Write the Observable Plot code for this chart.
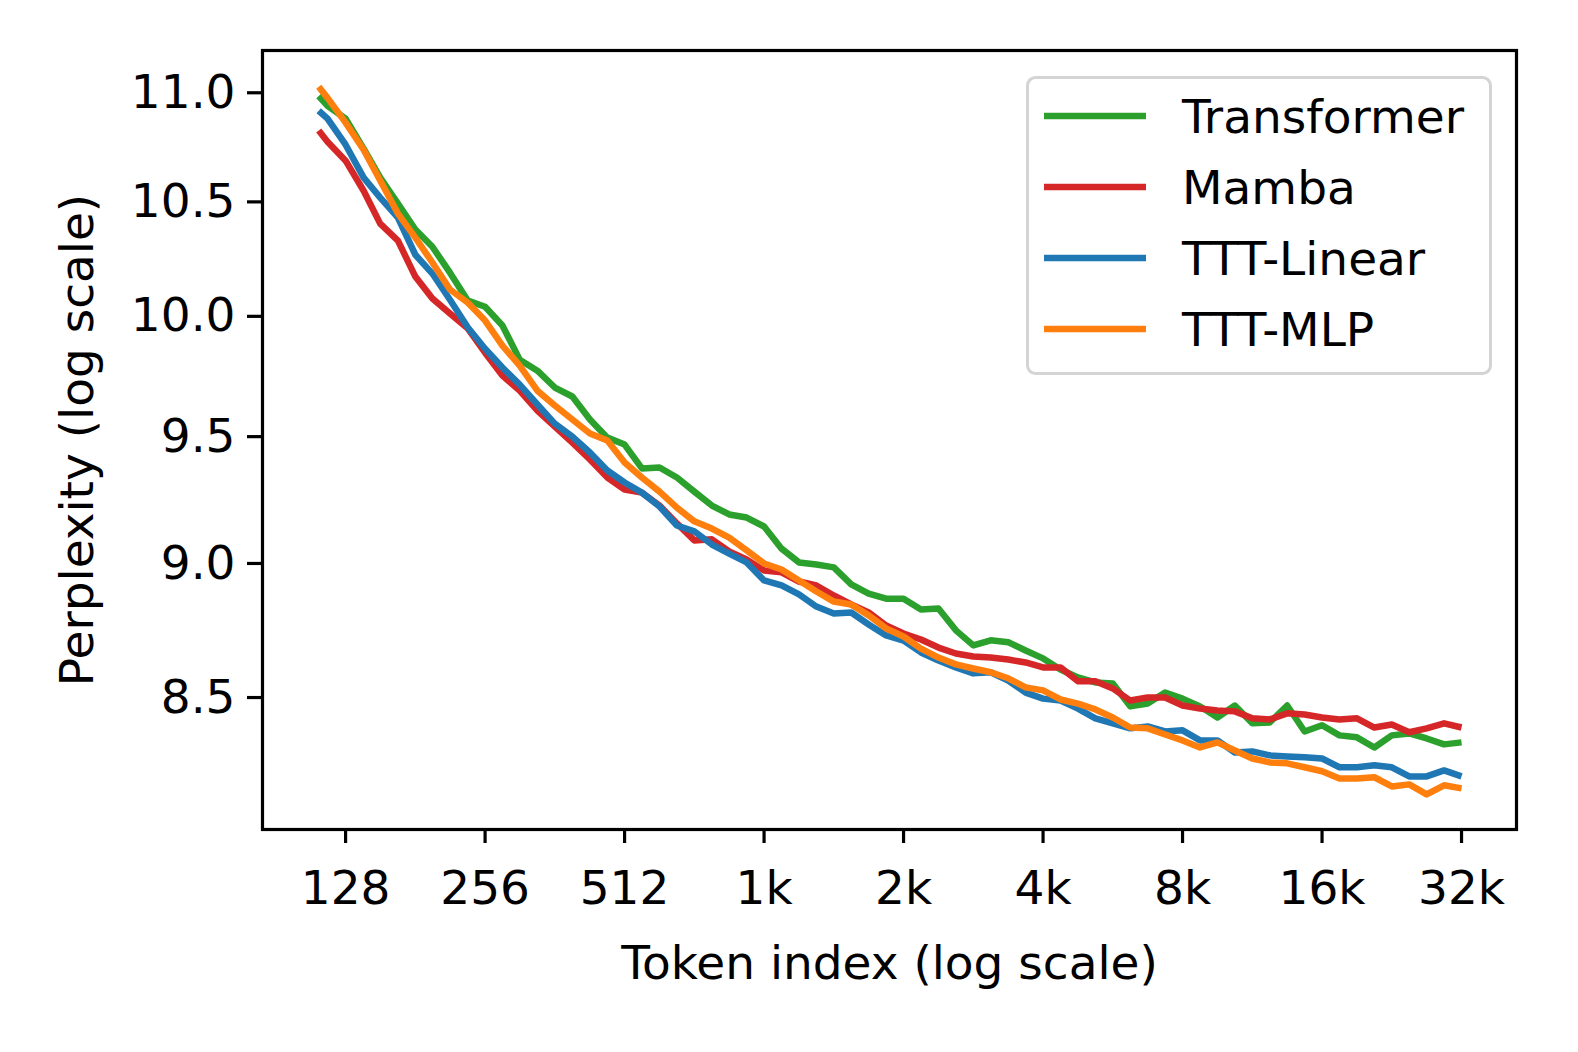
<!DOCTYPE html>
<html><head><meta charset="utf-8">
<script src="https://cdn.jsdelivr.net/npm/d3@7"></script>
<script src="https://cdn.jsdelivr.net/npm/@observablehq/plot@0.6"></script>
<style>
html,body{margin:0;padding:0;background:#fff;overflow:hidden;width:1578px;height:1052px}
#wrap{position:relative;width:1578px;height:1052px;overflow:hidden}
#wrap svg{display:block}
#legend{position:absolute;left:1026px;top:76px}
</style></head><body><div id="wrap"></div>
<script>
const tokens = [112, 117, 128, 140, 152, 166, 181, 197, 215, 235, 256, 279, 304, 332, 362, 395, 431, 470, 512, 558, 609, 664, 724, 790, 861, 939, 1024, 1117, 1218, 1328, 1448, 1579, 1722, 1878, 2048, 2233, 2436, 2656, 2896, 3158, 3444, 3756, 4096, 4467, 4871, 5312, 5793, 6317, 6889, 7512, 8192, 8934, 9742, 10624, 11585, 12634, 13777, 15024, 16384, 17867, 19484, 21247, 23170, 25268, 27555, 30048, 32768];
const transformer = [10.985, 10.939, 10.879, 10.741, 10.609, 10.492, 10.377, 10.301, 10.188, 10.067, 10.041, 9.961, 9.817, 9.771, 9.701, 9.664, 9.570, 9.496, 9.468, 9.372, 9.376, 9.336, 9.280, 9.225, 9.190, 9.178, 9.143, 9.057, 9.004, 8.996, 8.985, 8.920, 8.885, 8.866, 8.866, 8.825, 8.829, 8.747, 8.691, 8.710, 8.703, 8.672, 8.643, 8.602, 8.573, 8.555, 8.551, 8.468, 8.478, 8.518, 8.496, 8.468, 8.428, 8.471, 8.407, 8.410, 8.471, 8.378, 8.400, 8.364, 8.357, 8.321, 8.364, 8.371, 8.353, 8.332, 8.339];
const mamba = [10.824, 10.773, 10.686, 10.550, 10.403, 10.328, 10.171, 10.076, 10.012, 9.948, 9.846, 9.751, 9.688, 9.606, 9.541, 9.476, 9.408, 9.336, 9.288, 9.276, 9.225, 9.155, 9.089, 9.093, 9.046, 9.015, 8.973, 8.966, 8.931, 8.916, 8.878, 8.844, 8.814, 8.765, 8.735, 8.713, 8.683, 8.661, 8.650, 8.646, 8.639, 8.628, 8.610, 8.610, 8.559, 8.559, 8.533, 8.489, 8.500, 8.500, 8.471, 8.460, 8.453, 8.450, 8.425, 8.421, 8.443, 8.439, 8.428, 8.421, 8.425, 8.392, 8.403, 8.375, 8.389, 8.407, 8.392];
const tttLinear = [10.916, 10.879, 10.759, 10.609, 10.519, 10.430, 10.266, 10.184, 10.071, 9.952, 9.863, 9.784, 9.713, 9.631, 9.553, 9.500, 9.436, 9.364, 9.316, 9.276, 9.221, 9.147, 9.124, 9.073, 9.038, 9.004, 8.935, 8.916, 8.882, 8.836, 8.810, 8.814, 8.769, 8.728, 8.709, 8.665, 8.635, 8.610, 8.588, 8.592, 8.562, 8.518, 8.496, 8.489, 8.460, 8.425, 8.407, 8.389, 8.396, 8.378, 8.382, 8.346, 8.346, 8.303, 8.307, 8.293, 8.289, 8.286, 8.282, 8.251, 8.251, 8.258, 8.251, 8.219, 8.219, 8.240, 8.219];
const tttMlp = [11.028, 10.976, 10.861, 10.736, 10.596, 10.448, 10.341, 10.232, 10.115, 10.058, 9.982, 9.876, 9.792, 9.688, 9.627, 9.570, 9.513, 9.484, 9.396, 9.336, 9.280, 9.217, 9.163, 9.135, 9.100, 9.050, 9.000, 8.977, 8.935, 8.893, 8.855, 8.844, 8.803, 8.754, 8.724, 8.679, 8.646, 8.621, 8.606, 8.592, 8.570, 8.537, 8.526, 8.493, 8.478, 8.457, 8.428, 8.392, 8.389, 8.367, 8.346, 8.321, 8.339, 8.310, 8.282, 8.268, 8.265, 8.251, 8.237, 8.212, 8.212, 8.216, 8.184, 8.191, 8.156, 8.188, 8.177];
const seriesNames = ["Transformer", "Mamba", "TTT-Linear", "TTT-MLP"];
const seriesColors = ["#2ca02c", "#d62728", "#1f77b4", "#ff7f0e"];
const xTicks = [128, 256, 512, 1024, 2048, 4096, 8192, 16384, 32768];
const xTickLabels = ["128", "256", "512", "1k", "2k", "4k", "8k", "16k", "32k"];
const yTicks = [8.5, 9.0, 9.5, 10.0, 10.5, 11.0];
const yTickLabels = ["8.5", "9.0", "9.5", "10.0", "10.5", "11.0"];
const xLabel = "Token index (log scale)";
const yLabel = "Perplexity (log scale)";

const seriesValues = [transformer, mamba, tttLinear, tttMlp];
const rows = seriesNames.flatMap((name, s) =>
  tokens.map((t, i) => ({series: name, token: t, ppl: seriesValues[s][i]})));
const xTickRows = xTicks.map((t, i) => ({t, label: xTickLabels[i]}));

const font = "DejaVu Sans, sans-serif";
const chart = Plot.plot({
  width: 1578, height: 1052,
  marginLeft: 262, marginRight: 62, marginTop: 50, marginBottom: 223,
  style: {fontFamily: font, fontSize: "47px", background: "#fff", color: "#000", overflow: "visible"},
  x: {type: "log", domain: [84.7, 43060]},
  y: {type: "log", domain: [8.035, 11.2]},
  color: {domain: seriesNames, range: seriesColors},
  marks: [
    Plot.axisX({ticks: xTicks, tickSize: 14, strokeWidth: 3.2, tickFormat: () => "", label: null}),
    Plot.text(xTickRows, {x: "t", text: "label", frameAnchor: "bottom", dy: 41, lineAnchor: "top",
      textAnchor: "middle", fontSize: 47, fill: "#000"}),
    Plot.axisY({ticks: yTicks, tickSize: 15, tickPadding: 12, strokeWidth: 3.2,
      tickFormat: d => yTickLabels[yTicks.indexOf(d)], label: null, fontSize: 47}),
    ...seriesNames.map(name => Plot.line(rows.filter(r => r.series === name),
      {x: "token", y: "ppl", stroke: "series", strokeWidth: 6.5, strokeLinejoin: "round", strokeLinecap: "butt"})),
    Plot.frame({stroke: "#000", strokeWidth: 3.2}),
    Plot.text([xLabel], {text: d => d, frameAnchor: "bottom", dy: 134, fontSize: 47, lineAnchor: "middle",
      textAnchor: "middle", fill: "#000"}),
    Plot.text([yLabel], {text: d => d, frameAnchor: "left", dx: -185, rotate: -90, fontSize: 47,
      lineAnchor: "middle", textAnchor: "middle", fill: "#000"})
  ]
});
chart.style.display = "block";
const wrap = document.getElementById("wrap");
wrap.appendChild(chart);

const leg = d3.create("svg").attr("id", "legend").attr("width", 466).attr("height", 299);
leg.append("rect").attr("x", 1.5).attr("y", 1.5).attr("width", 463).attr("height", 296).attr("rx", 8)
  .attr("fill", "rgba(255,255,255,0.8)").attr("stroke", "#d4d4d4").attr("stroke-width", 3);
seriesNames.forEach((name, i) => {
  const y = 40 + 71 * i;
  leg.append("line").attr("x1", 18).attr("x2", 120).attr("y1", y).attr("y2", y)
    .attr("stroke", seriesColors[i]).attr("stroke-width", 6.5);
  leg.append("text").attr("x", 156).attr("y", y + 17).attr("font-family", font)
    .attr("font-size", 47).attr("fill", "#000").text(name);
});
wrap.appendChild(leg.node());
</script></body></html>
